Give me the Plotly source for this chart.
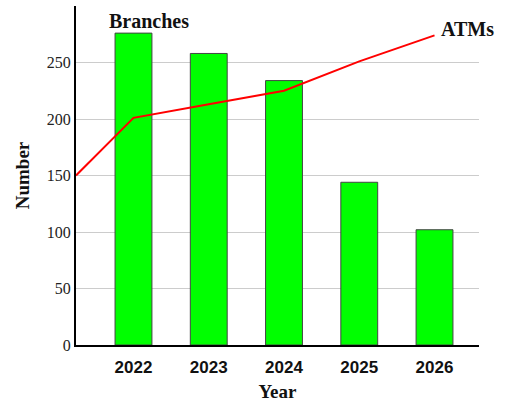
import plotly.graph_objects as go

years = [2022, 2023, 2024, 2025, 2026]
branches = [276, 258, 234, 144, 102]
atm_years = [2021.236, 2022, 2023, 2024, 2025, 2026]
atms = [150, 201, 213, 225, 251, 274]
y_ticks = [0, 50, 100, 150, 200, 250, 300]
y_labels = ["0", "50", "100", "150", "200", "250", ""]

fig = go.Figure()
fig.add_trace(go.Bar(x=years, y=branches, width=0.49,
                     marker=dict(color="#00ff00", line=dict(color="#444444", width=1)),
                     showlegend=False))
fig.add_trace(go.Scatter(x=atm_years, y=atms, mode="lines",
                         line=dict(color="#ff0000", width=2), showlegend=False))

fig.add_annotation(x=2021.65, y=287, text="<b>Branches</b>", showarrow=False,
                   xanchor="left", yanchor="middle",
                   font=dict(family="Liberation Serif", size=20, color="#111111"))
fig.add_annotation(x=2026.06, y=280, text="<b>ATMs</b>", showarrow=False,
                   xanchor="left", yanchor="middle",
                   font=dict(family="Liberation Serif", size=20, color="#111111"))

fig.update_layout(
    width=506, height=406,
    margin=dict(l=76, r=27, t=6, b=61),
    paper_bgcolor="white", plot_bgcolor="white",
    xaxis=dict(range=[2021.236, 2026.591], tickvals=years,
               ticktext=["<b>%d</b>" % y for y in years],
               tickfont=dict(family="Liberation Sans", size=17, color="#111111"),
               showgrid=False, showline=True, linecolor="black", linewidth=2,
               ticks="", zeroline=False, ticklabelstandoff=6,
               title=dict(text="<b>Year</b>", standoff=8,
                          font=dict(family="Liberation Serif", size=19, color="#111111"))),
    yaxis=dict(range=[0, 300], tickvals=y_ticks, ticktext=y_labels,
               tickfont=dict(family="Liberation Serif", size=16, color="#222222"),
               showgrid=True, gridcolor="#cccccc", gridwidth=1,
               showline=True, linecolor="black", linewidth=2,
               ticks="", zeroline=False,
               title=dict(text="<b>Number</b>", standoff=12,
                          font=dict(family="Liberation Serif", size=19, color="#111111"))),
)

fig.write_html("out.html")
